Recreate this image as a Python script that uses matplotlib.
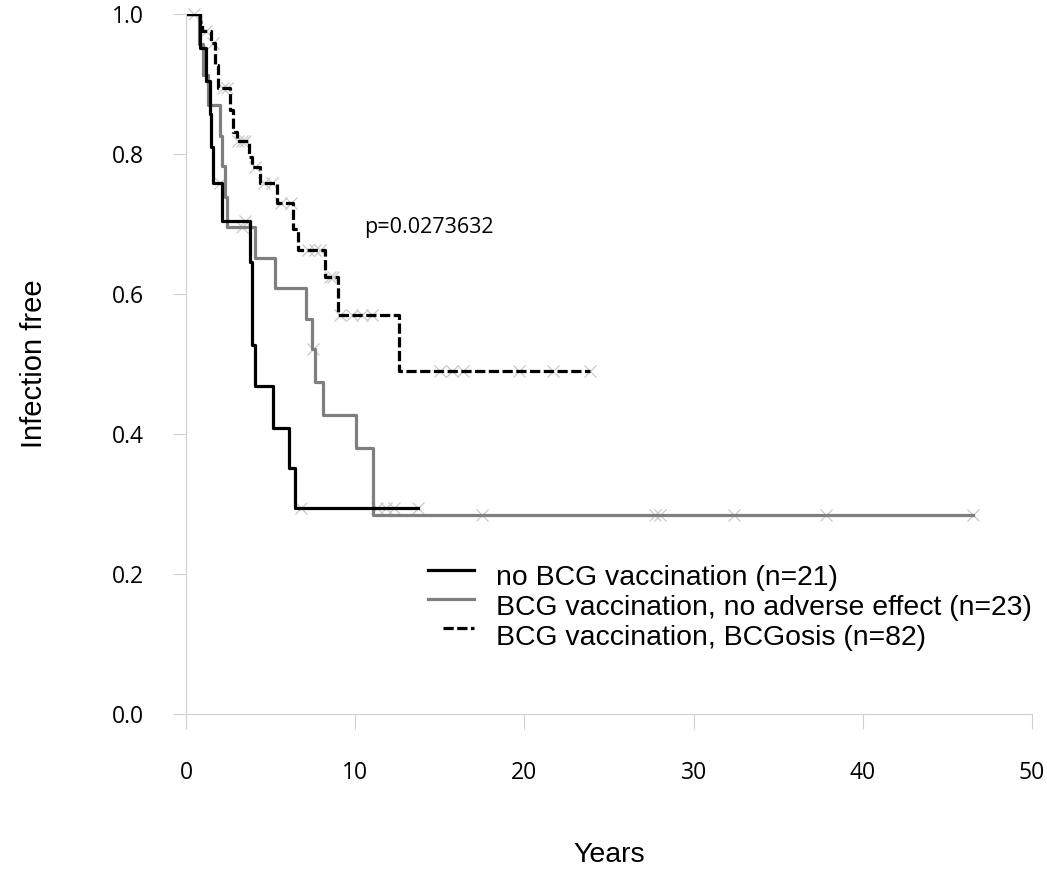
import numpy as np
import matplotlib
matplotlib.use("Agg")
import matplotlib.pyplot as plt

# Kaplan-Meier steps: event times (years) and survival after each step,
# last entry = end of follow-up
no_bcg_t = [0, 0.85, 1.2, 1.4, 1.5, 1.6, 2.1, 3.8, 3.9, 4.05, 5.15, 6.1, 6.45, 13.7]
no_bcg_s = [1.0, 0.952, 0.905, 0.857, 0.810, 0.758, 0.705, 0.646, 0.527, 0.468,
            0.409, 0.352, 0.294, 0.294]
no_bcg_cens = [2.0, 3.5, 6.8, 11.3, 11.8, 12.3, 13.7]

bcg_t = [0, 0.75, 1.0, 1.3, 2.0, 2.1, 2.3, 2.4, 4.08, 5.26, 7.09, 7.43, 7.62, 8.08,
         10.05, 11.03, 46.5]
bcg_s = [1.0, 0.957, 0.913, 0.870, 0.826, 0.783, 0.739, 0.696, 0.652, 0.609, 0.565,
         0.522, 0.474, 0.427, 0.380, 0.285, 0.285]
bcg_cens = [3.3, 7.5, 17.5, 27.7, 28.0, 32.4, 37.8, 46.5]

bcgosis_t = [0, 0.8, 0.95, 1.5, 1.7, 1.9, 2.6, 2.8, 3.0, 3.7, 3.9, 4.4, 5.4, 6.3,
             6.6, 8.2, 9.0, 12.6, 23.9]
bcgosis_s = [1.0, 0.988, 0.976, 0.958, 0.927, 0.894, 0.863, 0.832, 0.818, 0.796,
             0.782, 0.758, 0.730, 0.693, 0.663, 0.624, 0.570, 0.490, 0.490]
bcgosis_cens = [0.5, 1.2, 1.6, 2.2, 2.45, 3.1, 3.3, 3.5, 4.1, 4.6, 5.1, 5.6, 6.2,
                7.2, 7.6, 7.9, 8.5, 8.7, 9.1, 9.8, 10.4, 11.0, 15.0, 15.7, 16.4,
                19.7, 21.7, 23.9]

labels = ["no BCG vaccination (n=21)",
          "BCG vaccination, no adverse effect (n=23)",
          "BCG vaccination, BCGosis (n=82)"]
p_text = "p=0.0273632"

groups = [
    (bcg_t, bcg_s, bcg_cens, dict(color="#7f7f7f", lw=2.3)),
    (no_bcg_t, no_bcg_s, no_bcg_cens, dict(color="black", lw=2.3)),
    (bcgosis_t, bcgosis_s, bcgosis_cens, dict(color="black", lw=2.3, dashes=(3.2, 1.1))),
]

fig = plt.figure(figsize=(10.47, 8.73), dpi=100)
ax = fig.add_axes([186 / 1047, 159 / 873, 846 / 1047, 700 / 873])

for t, s, cens, style in groups:
    t = np.asarray(t)
    s = np.asarray(s)
    cens_s = s[np.searchsorted(t, cens, side="right") - 1]
    ax.plot(cens, cens_s, ls="none", marker="x", ms=8.5, mew=0.9,
            color="#cacaca", zorder=1, clip_on=False)
    ax.step(t, s, where="post", zorder=2, **style)

ax.set_xlim(0, 50)
ax.set_ylim(0, 1.0)
ax.set_xticks(np.arange(0, 51, 10))
ax.set_yticks(np.arange(0, 1.01, 0.2))
ax.set_yticklabels([f"{v:.1f}" for v in np.arange(0, 1.01, 0.2)])

for side in ["top", "right"]:
    ax.spines[side].set_visible(False)
for side in ["left", "bottom"]:
    ax.spines[side].set_color("#d0d0d0")
    ax.spines[side].set_linewidth(0.8)

ax.tick_params(axis="both", direction="out", color="#d0d0d0", width=0.8,
               labelsize=16.5, labelcolor="black")
ax.tick_params(axis="y", length=9.5, pad=21)
ax.tick_params(axis="x", length=10.8, pad=23)
for lab in ax.get_xticklabels() + ax.get_yticklabels():
    lab.set_fontfamily("Open Sans")

ax.set_xlabel("Years", fontsize=20.5, family="Liberation Sans")
ax.set_ylabel("Infection free", fontsize=21, family="Liberation Sans")
ax.xaxis.set_label_coords(0.5, (714 - 855) / 700)
ax.xaxis.label.set_va("center")
ax.yaxis.set_label_coords((34 - 186) / 846, 0.5)
ax.yaxis.label.set_va("center")

ax.text(10.5, 0.695, p_text, fontsize=15.5, family="Open Sans", va="center")

# legend keys sit a little above their text rows
key_y = [0.2057, 0.1643, 0.1229]
text_y = [0.1943, 0.1514, 0.1086]
key_x0 = [0.286, 0.286, 0.304]
for (_, _, _, style), ky, ty, kx0, lab in zip(
        [groups[1], groups[0], groups[2]], key_y, text_y, key_x0, labels):
    ax.plot([kx0, 0.340], [ky, ky], transform=ax.transAxes, clip_on=False, **style)
    ax.text(0.3664, ty, lab, transform=ax.transAxes, fontsize=20.4,
            family="Liberation Sans", va="center")

fig.savefig("out.png", dpi=100)
